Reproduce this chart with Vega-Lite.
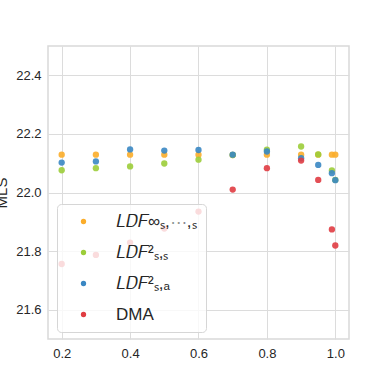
{
  "$schema": "https://vega.github.io/schema/vega-lite/v6.json",
  "autosize": {"type": "none"},
  "width": 301,
  "height": 293,
  "padding": {"left": 48, "top": 46, "right": 39, "bottom": 49},
  "background": "white",
  "config": {
    "view": {"stroke": "#d9d9d9", "strokeWidth": 1.5},
    "axis": {
      "labelFont": "Liberation Sans",
      "labelFontSize": 13,
      "labelColor": "#262626",
      "titleFont": "Liberation Sans",
      "titleFontSize": 15,
      "titleFontWeight": "normal",
      "titleColor": "#262626",
      "gridColor": "#dcdcdc",
      "gridWidth": 1,
      "domain": false,
      "ticks": false
    }
  },
  "data": {
    "values": [
      {"x": 0.2, "y": 22.129, "series": "LDFinf"},
      {"x": 0.3, "y": 22.129, "series": "LDFinf"},
      {"x": 0.4, "y": 22.129, "series": "LDFinf"},
      {"x": 0.5, "y": 22.129, "series": "LDFinf"},
      {"x": 0.6, "y": 22.129, "series": "LDFinf"},
      {"x": 0.7, "y": 22.128, "series": "LDFinf"},
      {"x": 0.8, "y": 22.129, "series": "LDFinf"},
      {"x": 0.9, "y": 22.129, "series": "LDFinf"},
      {"x": 0.95, "y": 22.129, "series": "LDFinf"},
      {"x": 0.99, "y": 22.129, "series": "LDFinf"},
      {"x": 1.0, "y": 22.129, "series": "LDFinf"},
      {"x": 0.2, "y": 22.076, "series": "LDFss"},
      {"x": 0.3, "y": 22.083, "series": "LDFss"},
      {"x": 0.4, "y": 22.089, "series": "LDFss"},
      {"x": 0.5, "y": 22.099, "series": "LDFss"},
      {"x": 0.6, "y": 22.112, "series": "LDFss"},
      {"x": 0.7, "y": 22.128, "series": "LDFss"},
      {"x": 0.8, "y": 22.146, "series": "LDFss"},
      {"x": 0.9, "y": 22.157, "series": "LDFss"},
      {"x": 0.95, "y": 22.13, "series": "LDFss"},
      {"x": 0.99, "y": 22.075, "series": "LDFss"},
      {"x": 1.0, "y": 22.043, "series": "LDFss"},
      {"x": 0.2, "y": 22.102, "series": "LDFsa"},
      {"x": 0.3, "y": 22.106, "series": "LDFsa"},
      {"x": 0.4, "y": 22.147, "series": "LDFsa"},
      {"x": 0.5, "y": 22.143, "series": "LDFsa"},
      {"x": 0.6, "y": 22.145, "series": "LDFsa"},
      {"x": 0.7, "y": 22.129, "series": "LDFsa"},
      {"x": 0.8, "y": 22.14, "series": "LDFsa"},
      {"x": 0.9, "y": 22.117, "series": "LDFsa"},
      {"x": 0.95, "y": 22.094, "series": "LDFsa"},
      {"x": 0.99, "y": 22.066, "series": "LDFsa"},
      {"x": 1.0, "y": 22.042, "series": "LDFsa"},
      {"x": 0.2, "y": 21.756, "series": "DMA"},
      {"x": 0.3, "y": 21.787, "series": "DMA"},
      {"x": 0.4, "y": 21.829, "series": "DMA"},
      {"x": 0.5, "y": 21.877, "series": "DMA"},
      {"x": 0.6, "y": 21.935, "series": "DMA"},
      {"x": 0.7, "y": 22.01, "series": "DMA"},
      {"x": 0.8, "y": 22.083, "series": "DMA"},
      {"x": 0.9, "y": 22.109, "series": "DMA"},
      {"x": 0.95, "y": 22.043, "series": "DMA"},
      {"x": 0.99, "y": 21.874, "series": "DMA"},
      {"x": 1.0, "y": 21.819, "series": "DMA"}
    ]
  },
  "mark": {"type": "circle", "size": 40, "opacity": 0.9},
  "encoding": {
    "x": {
      "field": "x", "type": "quantitative",
      "scale": {"domain": [0.16, 1.04], "nice": false, "zero": false},
      "axis": {"title": null, "values": [0.2, 0.4, 0.6, 0.8, 1.0], "format": ".1f", "labelPadding": 8}
    },
    "y": {
      "field": "y", "type": "quantitative",
      "scale": {"domain": [21.5, 22.5], "nice": false, "zero": false},
      "axis": {"title": "MLS", "values": [21.6, 21.8, 22.0, 22.2, 22.4], "format": ".1f", "labelPadding": 7, "titlePadding": 6}
    },
    "color": {
      "field": "series", "type": "nominal",
      "scale": {
        "domain": ["LDFinf", "LDFss", "LDFsa", "DMA"],
        "range": ["#fbad2a", "#9ccd3a", "#3a87c3", "#e03c42"]
      },
      "legend": {
        "title": null,
        "orient": "none",
        "legendX": 9,
        "legendY": 158,
        "labelExpr": "datum.value == 'LDFinf' ? '𝐿𝐷𝐹∞ₛ,⋯,ₛ' : datum.value == 'LDFss' ? '𝐿𝐷𝐹²ₛ,ₛ' : datum.value == 'LDFsa' ? '𝐿𝐷𝐹²ₛ,ₐ' : 'DMA'",
        "labelFont": "Liberation Sans",
        "labelFontSize": 17,
        "labelColor": "#262626",
        "labelOffset": 24,
        "symbolSize": 28,
        "symbolType": "circle",
        "symbolOpacity": 1,
        "symbolOffset": 9,
        "rowPadding": 13,
        "padding": 9,
        "fillColor": "rgba(255,255,255,0.8)",
        "strokeColor": "#d6d6d6",
        "cornerRadius": 4
      }
    }
  }
}
